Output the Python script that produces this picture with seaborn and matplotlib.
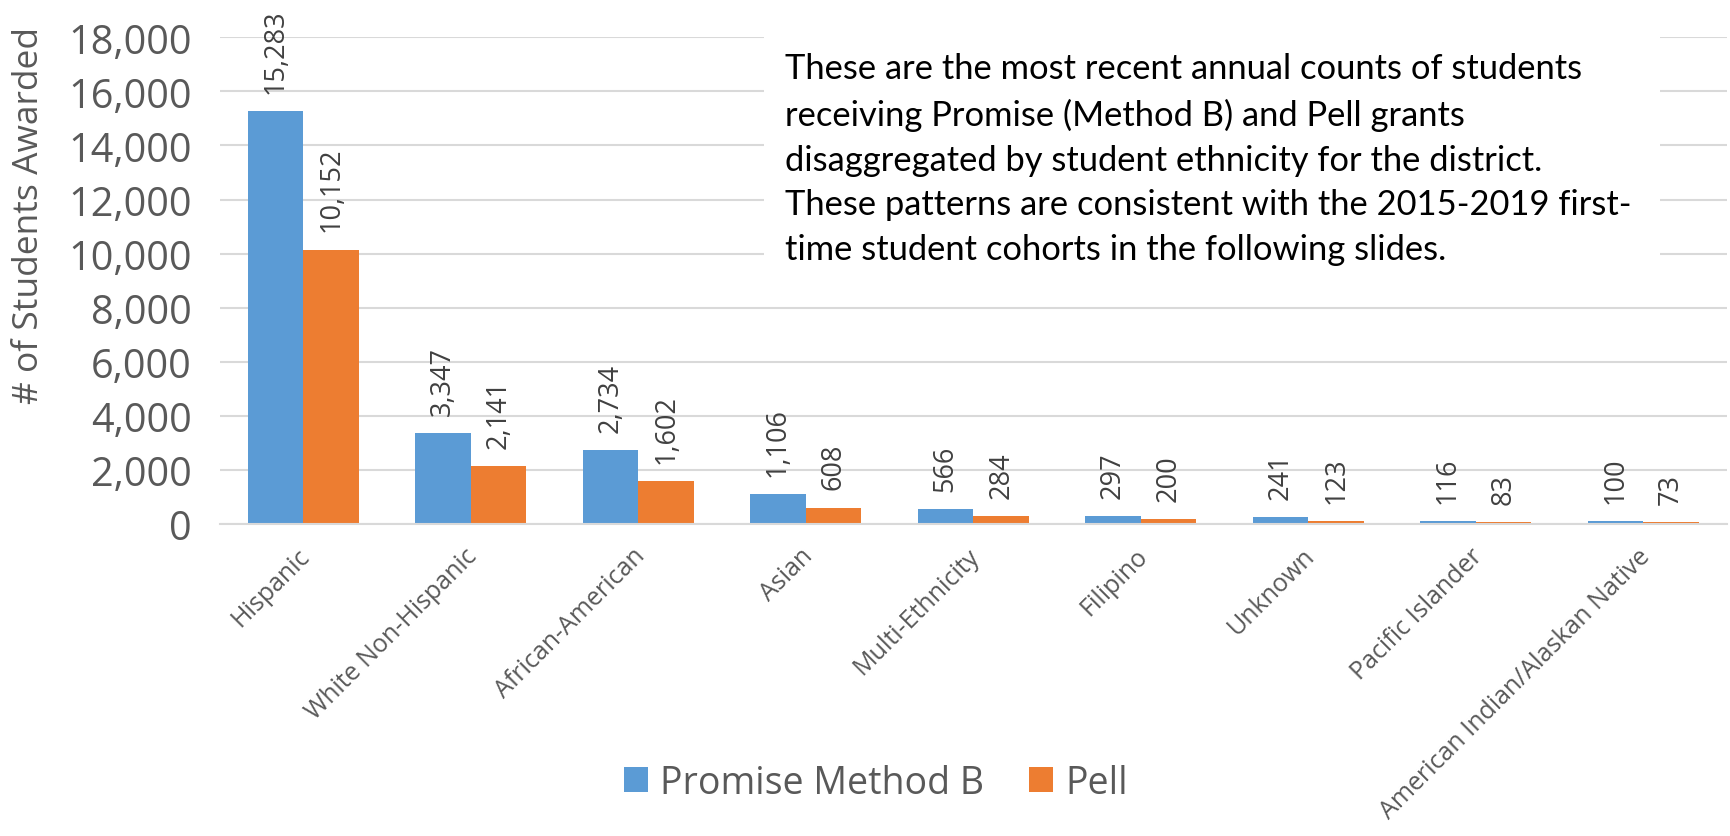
import matplotlib
matplotlib.use("Agg")
import matplotlib.pyplot as plt
import matplotlib.transforms as mtransforms
from matplotlib.patches import Rectangle
from matplotlib.ticker import FuncFormatter
import pandas as pd
import seaborn as sns

# Student counts by ethnicity for each grant program
ethnicities = [
    "Hispanic", "White Non-Hispanic", "African-American", "Asian",
    "Multi-Ethnicity", "Filipino", "Unknown", "Pacific Islander",
    "American Indian/Alaskan Native",
]
promise_b = [15283, 3347, 2734, 1106, 566, 297, 241, 116, 100]
pell = [10152, 2141, 1602, 608, 284, 200, 123, 83, 73]
series_names = ["Promise Method B", "Pell"]
y_ticks = list(range(0, 18001, 2000))

note = ("These are the most recent annual counts of students\n"
        "receiving Promise (Method B) and Pell grants\n"
        "disaggregated by student ethnicity for the district.\n"
        "These patterns are consistent with the 2015-2019 first-\n"
        "time student cohorts in the following slides.")

BLUE = "#5B9BD5"
ORANGE = "#ED7D31"
GREY_TEXT = "#595959"
GRID = "#D9D9D9"

df = pd.DataFrame({
    "Ethnicity": ethnicities * 2,
    "Program": [series_names[0]] * len(ethnicities) + [series_names[1]] * len(ethnicities),
    "Students": promise_b + pell,
})

sns.set_theme(style="white")
plt.rcParams["font.family"] = ["Open Sans", "DejaVu Sans"]

fig = plt.figure(figsize=(17.3, 8.37), dpi=100)
ax = fig.add_axes([0.1269, 0.3728, 0.8714, 0.5814])

sns.barplot(
    data=df, x="Ethnicity", y="Students", hue="Program",
    order=ethnicities, hue_order=series_names,
    palette=[BLUE, ORANGE], saturation=1, width=0.665,
    linewidth=0, ax=ax,
)

ax.set_xlim(-0.5, len(ethnicities) - 0.5)
ax.set_ylim(0, 18000)
ax.set_yticks(y_ticks)
ax.yaxis.set_major_formatter(FuncFormatter(lambda v, _: f"{int(v):,}"))
ax.grid(axis="y", color=GRID, linewidth=1.5)
ax.set_axisbelow(True)
for side in ["top", "right", "left"]:
    ax.spines[side].set_visible(False)
ax.spines["bottom"].set_color(GRID)
ax.spines["bottom"].set_linewidth(1.5)

ax.set_xlabel("")
ax.set_ylabel("")
ax.tick_params(axis="y", length=0, pad=20, labelsize=28.5, labelcolor=GREY_TEXT)
ax.tick_params(axis="x", length=0, pad=0, labelsize=18, labelcolor=GREY_TEXT)

# Slanted category labels hanging below the baseline
shift = mtransforms.ScaledTranslation(0.03, -0.28, fig.dpi_scale_trans)
for lbl in ax.get_xticklabels():
    lbl.set_rotation(45)
    lbl.set_ha("right")
    lbl.set_va("center")
    lbl.set_rotation_mode("anchor")
    lbl.set_transform(lbl.get_transform() + shift)

# Value labels above each bar
for container in ax.containers:
    vals = [b.get_height() for b in container]
    ax.bar_label(container, labels=[f"{int(round(v)):,}" for v in vals],
                 rotation=90, padding=13, fontsize=19.5, color="#404040")

fig.text(29.5 / 1730, 1 - 216 / 837, "# of Students Awarded", rotation=90,
         ha="center", va="center", fontsize=25.5, color=GREY_TEXT)

# Note box sitting over the upper gridlines
fig.patches.append(Rectangle((764 / 1730, 1 - 285 / 837), (1660 - 764) / 1730,
                             (285 - 28) / 837, transform=fig.transFigure,
                             facecolor="white", edgecolor="none", zorder=1))
fig.text(785 / 1730, 1 - 260 / 837, note, ha="left", va="baseline",
         fontsize=24.8, color="black", family=["Lato", "DejaVu Sans"],
         linespacing=1.49, zorder=2)

handles, labels = ax.get_legend_handles_labels()
ax.legend(handles, labels, loc="center", bbox_to_anchor=(876 / 1730, 1 - 784 / 837),
          bbox_transform=fig.transFigure, ncol=2, frameon=False, fontsize=27,
          labelcolor=GREY_TEXT, handlelength=0.64, handleheight=0.64,
          handletextpad=0.32, columnspacing=1.2, borderaxespad=0)

fig.savefig("out.png", dpi=100)
